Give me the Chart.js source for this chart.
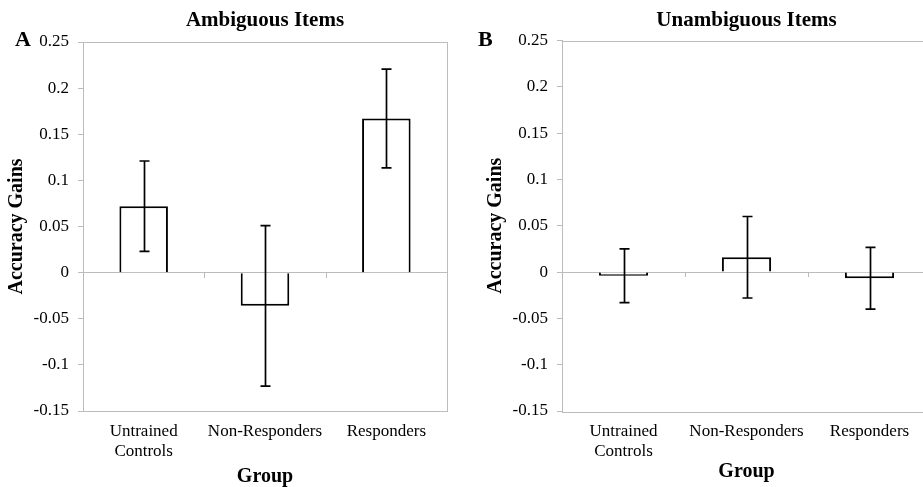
<!DOCTYPE html>
<html>
<head>
<meta charset="utf-8">
<script src="https://cdn.jsdelivr.net/npm/chart.js@4.4.0/dist/chart.umd.min.js"></script>
<style>
  html, body { margin: 0; padding: 0; background: #ffffff; overflow: hidden; width: 923px; height: 487px; }
  canvas { position: absolute; top: 0; }
  #left { left: 0; }
  #right { left: 460px; }
</style>
</head>
<body>
<canvas id="left" width="460" height="487"></canvas>
<canvas id="right" width="480" height="487"></canvas>
<script>
// ---- data ----
const categories = [['Untrained', 'Controls'], 'Non-Responders', 'Responders'];
const ambiguousMeans = [0.072, -0.036, 0.167];
const ambiguousErrors = [0.049, 0.087, 0.0535];
const unambiguousMeans = [-0.004, 0.016, -0.0067];
const unambiguousErrors = [0.029, 0.044, 0.0334];
const yTickValues = [-0.15, -0.1, -0.05, 0, 0.05, 0.1, 0.15, 0.2, 0.25];
const yTickLabels = ['-0.15', '-0.1', '-0.05', '0', '0.05', '0.1', '0.15', '0.2', '0.25'];

const FONT = '"Liberation Serif", "Times New Roman", serif';
const GRAY = '#bcbcbc';

const framePlugin = {
  id: 'frame',
  beforeDatasetsDraw(chart) {
    const { ctx, chartArea: a, scales } = chart;
    ctx.save();
    ctx.strokeStyle = GRAY;
    ctx.lineWidth = 1;
    ctx.strokeRect(Math.round(a.left) + 0.5, Math.round(a.top) + 0.5,
      Math.round(a.right - a.left), Math.round(a.bottom - a.top));
    // category tick marks on the zero line
    const y0 = Math.round(scales.y.getPixelForValue(0));
    const n = chart.data.labels.length;
    for (let i = 1; i < n; i++) {
      const x = Math.round((scales.x.getPixelForValue(i - 1) + scales.x.getPixelForValue(i)) / 2) + 0.5;
      ctx.beginPath();
      ctx.moveTo(x, y0);
      ctx.lineTo(x, y0 + 5);
      ctx.stroke();
    }
    ctx.restore();
  }
};

const errorBarPlugin = {
  id: 'errorBars',
  afterDatasetsDraw(chart, args, opts) {
    const { ctx, scales } = chart;
    const errs = opts.errors || [];
    const data = chart.data.datasets[0].data;
    ctx.save();
    ctx.strokeStyle = '#000';
    ctx.lineWidth = 1.7;
    data.forEach((v, i) => {
      const x = Math.round(scales.x.getPixelForValue(i)) + 0.5;
      const yt = scales.y.getPixelForValue(v + errs[i]);
      const yb = scales.y.getPixelForValue(v - errs[i]);
      ctx.beginPath();
      ctx.moveTo(x, yt); ctx.lineTo(x, yb);
      ctx.moveTo(x - 5, yt); ctx.lineTo(x + 5, yt);
      ctx.moveTo(x - 5, yb); ctx.lineTo(x + 5, yb);
      ctx.stroke();
    });
    ctx.restore();
  }
};

const letterPlugin = {
  id: 'panelLetter',
  afterDraw(chart, args, opts) {
    const { ctx } = chart;
    ctx.save();
    ctx.font = 'bold 22px ' + FONT;
    ctx.fillStyle = '#000';
    ctx.textBaseline = 'alphabetic';
    ctx.textAlign = 'left';
    ctx.fillText(opts.text, opts.x, opts.y);
    ctx.restore();
  }
};

function makeChart(id, cfg) {
  return new Chart(document.getElementById(id), {
    type: 'bar',
    data: {
      labels: categories,
      datasets: [{
        data: cfg.means,
        backgroundColor: '#ffffff',
        borderColor: '#000000',
        borderWidth: 2,
        barPercentage: 0.4,
        categoryPercentage: 1.0
      }]
    },
    options: {
      responsive: false,
      animation: false,
      devicePixelRatio: 1,
      layout: { padding: { left: 0, right: cfg.padRight, top: 0, bottom: 0 } },
      plugins: {
        legend: { display: false },
        tooltip: { enabled: false },
        title: {
          display: true,
          text: cfg.title,
          fullSize: false,
          color: '#000',
          font: { family: FONT, size: 21, weight: 'bold', lineHeight: 1 },
          padding: { top: cfg.titleTop, bottom: cfg.titleBottom }
        },
        errorBars: { errors: cfg.errors },
        panelLetter: { text: cfg.letter, x: cfg.letterX, y: 45.5 }
      },
      scales: {
        x: {
          grid: { display: false, drawTicks: false },
          border: { display: false },
          ticks: {
            color: '#000',
            font: { family: FONT, size: 17, lineHeight: 1.15 },
            padding: 11,
            maxRotation: 0,
            minRotation: 0,
            autoSkip: false
          },
          title: {
            display: true,
            text: 'Group',
            color: '#000',
            font: { family: FONT, size: 20, weight: 'bold', lineHeight: 1 },
            padding: { top: 0, bottom: cfg.groupBottom }
          },
          afterFit(scale) { scale.height = 76; }
        },
        y: {
          min: -0.15,
          max: 0.25,
          afterBuildTicks(scale) {
            scale.ticks = yTickValues.map(v => ({ value: v }));
          },
          ticks: {
            color: '#000',
            font: { family: FONT, size: 17 },
            padding: 9,
            callback(value) {
              const i = yTickValues.findIndex(t => Math.abs(t - value) < 1e-9);
              return i >= 0 ? yTickLabels[i] : '';
            }
          },
          grid: {
            drawOnChartArea: true,
            drawTicks: true,
            tickLength: 5,
            tickColor: GRAY,
            color: ctx => (ctx.tick && Math.abs(ctx.tick.value) < 1e-9) ? GRAY : 'rgba(0,0,0,0)',
            lineWidth: 1
          },
          border: { display: true, color: GRAY, width: 1 },
          title: {
            display: true,
            text: 'Accuracy Gains',
            color: '#000',
            font: { family: FONT, size: 20, weight: 'bold', lineHeight: 1 },
            padding: { top: cfg.yTitleTop, bottom: 0 }
          },
          afterFit(scale) { scale.width = cfg.yWidth; }
        }
      }
    },
    plugins: [framePlugin, errorBarPlugin, letterPlugin]
  });
}

makeChart('left', {
  means: ambiguousMeans,
  errors: ambiguousErrors,
  title: 'Ambiguous Items',
  letter: 'A',
  letterX: 15,
  padRight: 13,
  yWidth: 83,
  yTitleTop: 6.5,
  titleTop: 10.5,
  titleBottom: 10.5,
  groupBottom: 0
});

makeChart('right', {
  means: unambiguousMeans,
  errors: unambiguousErrors,
  title: 'Unambiguous Items',
  letter: 'B',
  letterX: 18,
  padRight: 9,
  yWidth: 102,
  yTitleTop: 26,
  titleTop: 10,
  titleBottom: 9.5,
  groupBottom: 5.5
});
</script>
</body>
</html>
